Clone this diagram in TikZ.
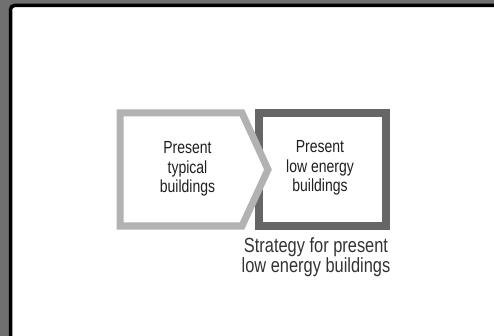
\documentclass[tikz,border=0pt]{standalone}
\usepackage{fontspec}
\setmainfont{Liberation Sans}[FakeStretch=0.8]
\begin{document}
\begin{tikzpicture}[x=1pt,y=-1pt,
  boxtext/.style={align=center,text=black!88,font=\fontsize{17.5}{19.5}\selectfont},
  notetext/.style={align=center,text=black!80,font=\fontsize{20.5}{20.5}\selectfont}]
\useasboundingbox (0,0) rectangle (494,336);
% frame
\fill[black!56] (0,0) rectangle (494,336);
\begin{scope}
\clip (0,0) rectangle (494,336);
\draw[black,line width=3.5pt,fill=white,rounded corners=4pt] (10.5,5.5) rectangle (520,360);
\end{scope}
% dark box
\draw[draw=black!60,line width=8pt,fill=white] (259,113) rectangle (385.5,226);
% light chevron
\draw[draw=black!30,line width=7pt,fill=white,line join=miter]
  (120,113) -- (242,113) -- (268,169.5) -- (242,226) -- (120,226) -- cycle;
\node[boxtext] (typical) at (187.5,169) {Present\\typical\\buildings};
\node[boxtext] (lowenergy) at (320,168) {Present\\low energy\\buildings};
\node[notetext] (strategy) at (316,257) {Strategy for present\\low energy buildings};
\end{tikzpicture}
\end{document}
